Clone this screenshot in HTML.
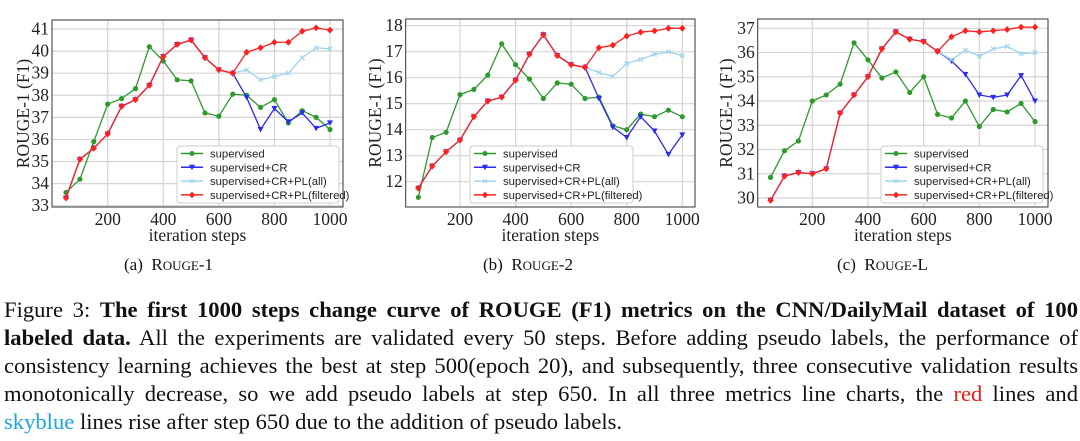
<!DOCTYPE html>
<html><head><meta charset="utf-8">
<style>
body{margin:0;width:1080px;height:441px;background:#fff;overflow:hidden;position:relative;font-family:"Liberation Serif",serif;}
svg{position:absolute;left:0;top:0}
.cap{position:absolute;left:4px;width:1074px;font-size:22.6px;line-height:28px;top:296px;color:#111;}
.cap div{text-align:justify;text-align-last:justify;}
.cap div.last{text-align-last:left;white-space:nowrap}
.sub{position:absolute;top:255px;font-size:17px;color:#111}
.sc{font-size:13px}
</style></head>
<body>
<svg id="chart" width="1080" height="250"></svg>
<div class="sub" style="left:124px">(a)&nbsp; R<span class="sc">OUGE</span>-1</div>
<div class="sub" style="left:483px">(b)&nbsp; R<span class="sc">OUGE</span>-2</div>
<div class="sub" style="left:837px">(c)&nbsp; R<span class="sc">OUGE</span>-L</div>
<div class="cap">
<div>Figure 3: <b>The first 1000 steps change curve of ROUGE (F1) metrics on the CNN/DailyMail dataset of 100</b></div>
<div><b>labeled data.</b> All the experiments are validated every 50 steps. Before adding pseudo labels, the performance of</div>
<div>consistency learning achieves the best at step 500(epoch 20), and subsequently, three consecutive validation results</div>
<div>monotonically decrease, so we add pseudo labels at step 650. In all three metrics line charts, the <span style="color:#e8201c">red</span> lines and</div>
<div class="last"><span style="color:#1aa4e0">skyblue</span> lines rise after step 650 due to the addition of pseudo labels.</div>
</div>
<script>
const steps=[50,100,150,200,250,300,350,400,450,500,550,600,650,700,750,800,850,900,950,1000];
const plSteps=[650,700,750,800,850,900,950,1000];
const xTicks=[200,400,600,800,1000];
const r1Ticks=[33,34,35,36,37,38,39,40,41];
const r1Sup=[33.6,34.2,35.9,37.6,37.85,38.3,40.2,39.55,38.7,38.65,37.2,37.05,38.05,38.0,37.45,37.8,36.75,37.3,37.0,36.45];
const r1CR=[33.35,35.1,35.6,36.25,37.5,37.8,38.45,39.75,40.3,40.5,39.7,39.15,39.0,37.9,36.45,37.4,36.8,37.2,36.5,36.75];
const r1All=[39.0,39.15,38.7,38.85,39.0,39.7,40.15,40.1];
const r1Fil=[39.0,39.95,40.15,40.4,40.4,40.9,41.05,40.95];
const r2Ticks=[12,13,14,15,16,17,18];
const r2Sup=[11.4,13.7,13.9,15.35,15.55,16.1,17.3,16.5,15.95,15.2,15.8,15.75,15.2,15.25,14.15,14.0,14.6,14.5,14.75,14.5];
const r2CR=[11.75,12.6,13.15,13.6,14.5,15.1,15.25,15.9,16.9,17.65,16.85,16.5,16.4,15.2,14.1,13.7,14.5,13.95,13.05,13.8];
const r2All=[16.4,16.2,16.05,16.55,16.7,16.9,17.0,16.85];
const r2Fil=[16.4,17.15,17.25,17.6,17.75,17.8,17.9,17.9];
const rLTicks=[30,31,32,33,34,35,36,37];
const rLSup=[30.85,31.95,32.35,34.0,34.25,34.7,36.4,35.7,34.95,35.2,34.35,35.0,33.45,33.3,34.0,32.95,33.65,33.55,33.9,33.15];
const rLCR=[29.9,30.9,31.05,31.0,31.2,33.5,34.25,35.0,36.15,36.85,36.55,36.45,36.05,35.65,35.1,34.25,34.15,34.25,35.05,34.0];
const rLAll=[36.05,35.7,36.1,35.85,36.15,36.25,35.95,36.0];
const rLFil=[36.05,36.65,36.9,36.85,36.9,36.95,37.05,37.05];
const legendLabels=["supervised","supervised+CR","supervised+CR+PL(all)","supervised+CR+PL(filtered)"];

const NS="http://www.w3.org/2000/svg";
const svg=document.getElementById('chart');
function el(t,a,p){const e=document.createElementNS(NS,t);for(const k in a)e.setAttribute(k,a[k]);(p||svg).appendChild(e);return e;}

function chart(cfg){
  const g=el('g',{});
  
  
  const X=s=>cfg.x0+(s-200)*(cfg.x1-cfg.x0)/800;
  const Y=v=>cfg.yA+(v-cfg.vA)*(cfg.yB-cfg.yA)/(cfg.vB-cfg.vA);
  xTicks.forEach(t=>{const l=el('line',{x1:X(t),x2:X(t),y1:cfg.top,y2:cfg.bot,stroke:'#d4d4d4','stroke-width':1.2},g);
    
    const tx=el('text',{x:X(t),y:cfg.bot+18,'font-size':17.5,'text-anchor':'middle',fill:'#222'},g);tx.textContent=t;
    });
  cfg.ticks.forEach(t=>{const l=el('line',{x1:cfg.left,x2:cfg.right,y1:Y(t),y2:Y(t),stroke:'#d4d4d4','stroke-width':1.2},g);
    
    const tx=el('text',{x:cfg.left-3,y:Y(t)+5.5,'font-size':17.5,'text-anchor':'end',fill:'#222'},g);tx.textContent=t;
    });
  const fr=el('rect',{x:cfg.left,y:cfg.top,width:cfg.right-cfg.left,height:cfg.bot-cfg.top,fill:'none',stroke:'#333','stroke-width':1},g);
  
  const xt=el('text',{x:(cfg.left+cfg.right)/2,y:cfg.bot+34,'font-size':17.5,'text-anchor':'middle',fill:'#222'},g);xt.textContent='iteration steps';
  
  const yt=el('text',{x:0,y:0,'font-size':17.5,'text-anchor':'middle',fill:'#222',transform:`translate(${cfg.ytx},${(cfg.top+cfg.bot)/2}) rotate(-90)`},g);yt.textContent='ROUGE-1 (F1)';
  
  function series(xs,vs,color,marker,nm){
    const pts=xs.map((s,i)=>X(s)+','+Y(vs[i])).join(' ');
    const pl=el('polyline',{points:pts,fill:'none',stroke:color,'stroke-width':1.3},g);
    
    xs.forEach((s,i)=>{const x=X(s),y=Y(vs[i]);let m;
      if(marker==='o')m=el('circle',{cx:x,cy:y,r:2.6,fill:color},g);
      else if(marker==='v')m=el('path',{d:`M${x-3},${y-2.5}L${x+3},${y-2.5}L${x},${y+3}Z`,fill:color},g);
      else if(marker==='x')m=el('path',{d:`M${x-2.2},${y-2.2}L${x+2.2},${y+2.2}M${x-2.2},${y+2.2}L${x+2.2},${y-2.2}`,stroke:color,'stroke-width':1.2},g);
      else m=el('path',{d:`M${x-3.2},${y}L${x},${y-3.4}L${x+3.2},${y}L${x},${y+3.4}Z`,fill:color},g);
      });
  }
  series(steps,cfg.sup,'#2e9a2e','o','supervised');
  series(steps,cfg.cr,'#2a2af0','v','supervised-cr');
  series(plSteps,cfg.all,'#9fd4ef','x','pl-all');
  series(steps.slice(0,13),cfg.cr.slice(0,13),'#ff2020','d','pl-filtered-pre');
  series(plSteps,cfg.fil,'#ff2020','d','pl-filtered');
  const lg=el('g',{},g);
  el('rect',{x:cfg.lx,y:146,width:cfg.lw,height:57,rx:3,fill:'#fff',stroke:'#ccc'},lg);
  const cols=['#2e9a2e','#2a2af0','#9fd4ef','#ff2020'],mk=['o','v','x','d'];
  legendLabels.forEach((lab,i)=>{const y=153.5+i*13.8,x=cfg.lx+4;
    const e=el('g',{},lg);
    el('line',{x1:x,x2:x+22,y1:y,y2:y,stroke:cols[i],'stroke-width':1.5},e);
    const c=x+11;
    if(mk[i]==='o')el('circle',{cx:c,cy:y,r:2.5,fill:cols[i]},e);
    else if(mk[i]==='v')el('path',{d:`M${c-3},${y-2.5}L${c+3},${y-2.5}L${c},${y+3}Z`,fill:cols[i]},e);
    else if(mk[i]==='x')el('path',{d:`M${c-2},${y-2}L${c+2},${y+2}M${c-2},${y+2}L${c+2},${y-2}`,stroke:cols[i]},e);
    else el('path',{d:`M${c-3},${y}L${c},${y-3.3}L${c+3},${y}L${c},${y+3.3}Z`,fill:cols[i]},e);
    const t=el('text',{x:x+29,y:y+4,'font-size':11.3,'font-family':'Liberation Sans, sans-serif',fill:'#222'},e);t.textContent=lab;});
}
chart({name:'rouge-1-chart',left:52,right:343,top:20,bot:207,x0:107.7,x1:330,vA:41,yA:29,vB:33,yB:205.7,ticks:r1Ticks,sup:r1Sup,cr:r1CR,all:r1All,fil:r1Fil,lx:177,lw:162,ytx:29});
chart({name:'rouge-2-chart',left:405.7,right:695,top:19,bot:207,x0:460,x1:682.3,vA:18,yA:25.7,vB:12,yB:181.7,ticks:r2Ticks,sup:r2Sup,cr:r2CR,all:r2All,fil:r2Fil,lx:470,lw:163,ytx:381});
chart({name:'rouge-l-chart',left:757.7,right:1048,top:19,bot:207,x0:812.3,x1:1035,vA:37,yA:28.3,vB:30,yB:198,ticks:rLTicks,sup:rLSup,cr:rLCR,all:rLAll,fil:rLFil,lx:881,lw:162,ytx:732});
</script>
</body></html>
